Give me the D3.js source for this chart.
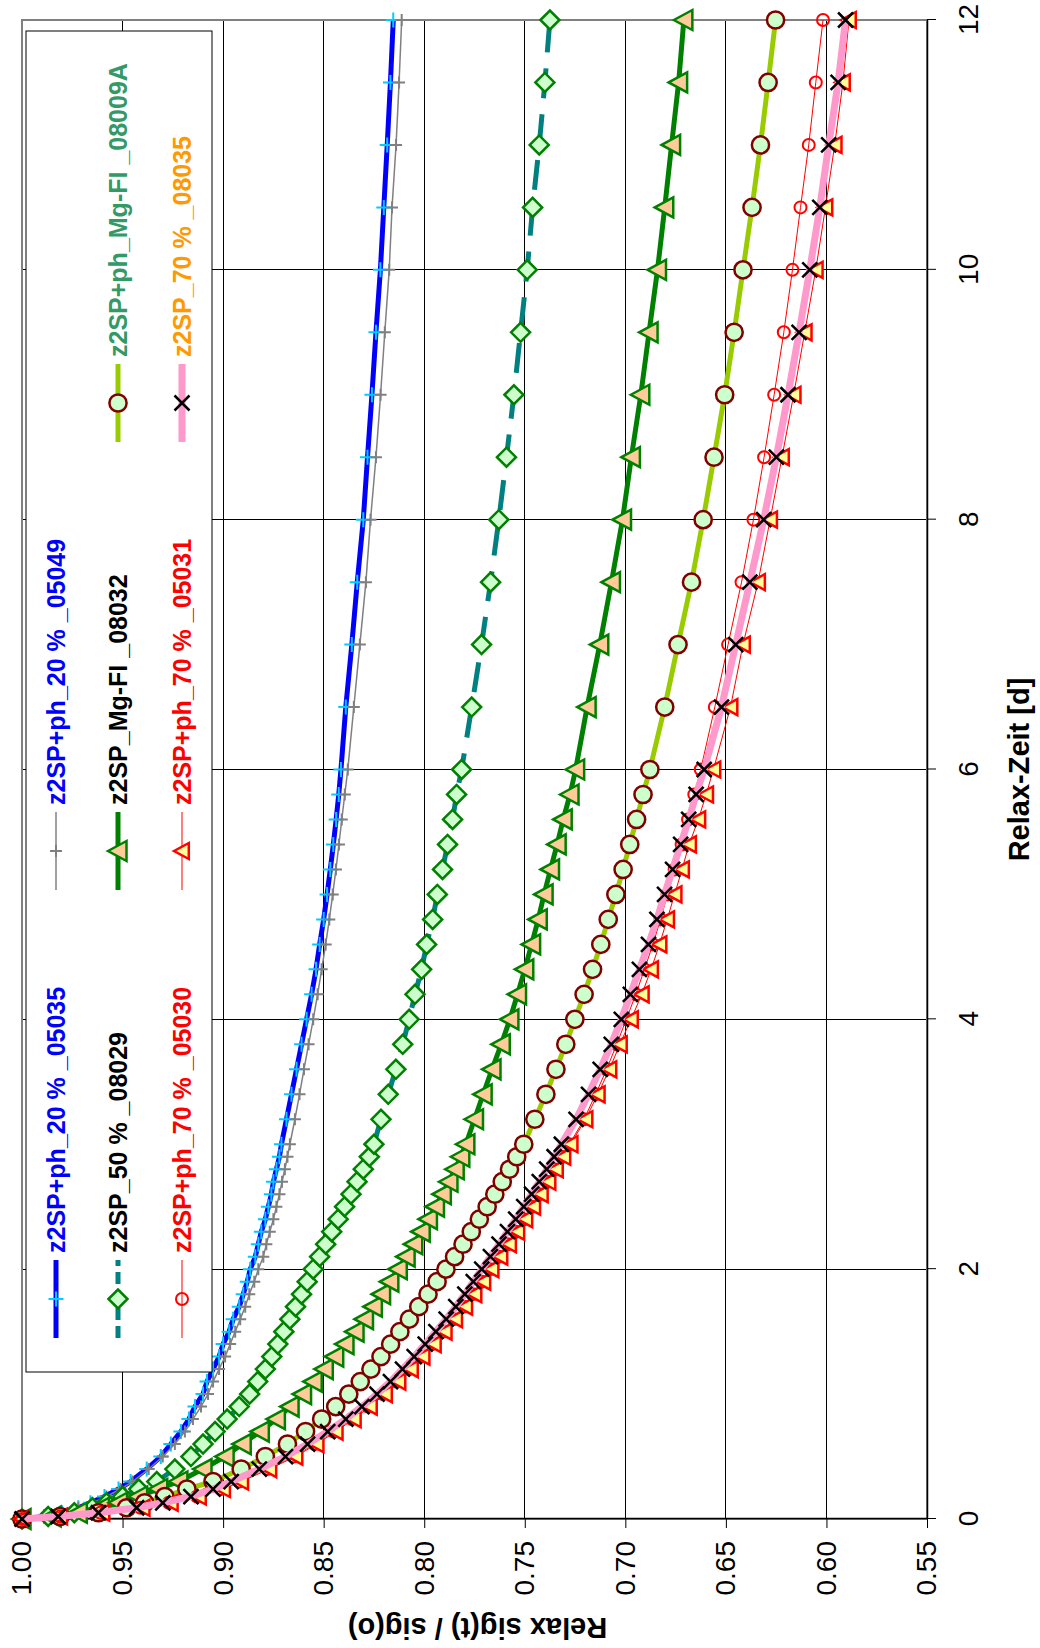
<!DOCTYPE html>
<html lang="de">
<head>
	<meta charset="UTF-8">
	<title>Relaxation</title>
	<script src="https://cdn.jsdelivr.net/npm/d3@7"></script>
	<style>
		html, body{
			margin: 0;
			padding: 0;
			background: #fff;
		}
		svg{
			display: block;
			font-family: "Liberation Sans", Arial, sans-serif;
		}
	</style>
</head>
<body>
	<div class="chart"></div>
	<script>
		// Relax-Zeit [d]
		var days = [0, 0.02, 0.05, 0.09, 0.13, 0.18, 0.24, 0.3,
			0.4, 0.5, 0.6, 0.7, 0.8, 0.9, 1.0, 1.1, 1.2, 1.3, 1.4, 1.5, 1.6, 1.7, 1.8, 1.9, 2.0,
			2.1, 2.2, 2.3, 2.4, 2.5, 2.6, 2.7, 2.8, 2.9, 3.0,
			3.2, 3.4, 3.6, 3.8, 4.0, 4.2, 4.4, 4.6, 4.8, 5.0, 5.2, 5.4, 5.6, 5.8, 6.0,
			6.5, 7.0, 7.5, 8.0, 8.5, 9.0, 9.5, 10.0, 10.5, 11.0, 11.5, 12.0];

		// Relax sig(t) / sig(o)
		var s05035 = [1.000, 0.989, 0.980, 0.972, 0.966, 0.959, 0.952, 0.946,
			0.938, 0.931, 0.926, 0.921, 0.917, 0.914, 0.910, 0.908, 0.905, 0.902, 0.900, 0.897, 0.895, 0.892, 0.890, 0.888, 0.8865,
			0.884, 0.8825, 0.881, 0.879, 0.8775, 0.876, 0.875, 0.8735, 0.872, 0.871,
			0.8685, 0.866, 0.8635, 0.861, 0.8585, 0.856, 0.8538, 0.852, 0.850, 0.8483, 0.8467, 0.8452, 0.8438, 0.8425, 0.8414,
			0.839, 0.836, 0.8333, 0.8303, 0.8282, 0.826, 0.824, 0.8218, 0.8201, 0.8184, 0.8168, 0.8154];
		var s05049 = [1.000, 0.989, 0.980, 0.972, 0.965, 0.958, 0.951, 0.945,
			0.937, 0.930, 0.924, 0.919, 0.915, 0.911, 0.9075, 0.905, 0.902, 0.899, 0.8965, 0.894, 0.8915, 0.889, 0.887, 0.8845, 0.8825,
			0.880, 0.8785, 0.8768, 0.875, 0.8735, 0.872, 0.8707, 0.8693, 0.868, 0.8668,
			0.8643, 0.862, 0.8598, 0.8575, 0.8552, 0.853, 0.851, 0.849, 0.8472, 0.8455, 0.8439, 0.8424, 0.841, 0.8395, 0.838,
			0.835, 0.832, 0.829, 0.8267, 0.824, 0.8217, 0.8196, 0.8174, 0.816, 0.814, 0.8125, 0.8112];
		var s08029 = [1.000, 0.987, 0.974, 0.965, 0.958, 0.950, 0.942, 0.933,
			0.924, 0.916, 0.910, 0.904, 0.898, 0.892, 0.8868, 0.8828, 0.879, 0.8758, 0.8728, 0.8698, 0.8668, 0.864, 0.861, 0.8582, 0.8552,
			0.852, 0.849, 0.846, 0.8428, 0.8396, 0.8364, 0.8334, 0.8303, 0.8273, 0.825,
			0.8215, 0.8179, 0.8141, 0.8107, 0.8075, 0.8046, 0.8013, 0.7988, 0.7958, 0.7935, 0.7909, 0.7884, 0.7859, 0.7839, 0.7814,
			0.7764, 0.7715, 0.767, 0.7629, 0.7591, 0.7554, 0.7521, 0.7488, 0.7461, 0.7428, 0.740, 0.7375];
		var s08032 = [1.000, 0.985, 0.972, 0.961, 0.952, 0.942, 0.932, 0.922,
			0.910, 0.899, 0.8905, 0.8815, 0.8735, 0.8667, 0.8605, 0.8552, 0.8497, 0.8445, 0.8394, 0.8344, 0.8297, 0.8253, 0.8212, 0.8171, 0.8129,
			0.809, 0.8052, 0.8015, 0.7979, 0.7944, 0.791, 0.7877, 0.7846, 0.7818, 0.7793,
			0.775, 0.7707, 0.7663, 0.7617, 0.7574, 0.7536, 0.750, 0.7466, 0.7433, 0.7404, 0.7372, 0.7339, 0.7309, 0.7275, 0.7247,
			0.719, 0.7127, 0.7069, 0.7014, 0.697, 0.6923, 0.6882, 0.684, 0.6804, 0.677, 0.6735, 0.6709];
		var s08009A = [1.000, 0.981, 0.962, 0.948, 0.939, 0.929, 0.918, 0.905,
			0.891, 0.879, 0.868, 0.859, 0.851, 0.844, 0.8375, 0.8318, 0.8265, 0.8215, 0.8167, 0.8121, 0.8074, 0.8027, 0.7981, 0.7936, 0.7892,
			0.7849, 0.7807, 0.7766, 0.7726, 0.7687, 0.7649, 0.7612, 0.7576, 0.754, 0.7505,
			0.745, 0.7395, 0.7345, 0.7296, 0.7251, 0.7205, 0.7163, 0.7122, 0.7085, 0.7047, 0.7011, 0.6978, 0.6944, 0.6912, 0.6878,
			0.6804, 0.6738, 0.6671, 0.6613, 0.6559, 0.6506, 0.6459, 0.6415, 0.637, 0.6328, 0.629, 0.6253];
		var s05030 = [1.000, 0.981, 0.961, 0.941, 0.927, 0.913, 0.901, 0.892,
			0.878, 0.865, 0.8545, 0.845, 0.836, 0.828, 0.8205, 0.8138, 0.8075, 0.8017, 0.796, 0.7906, 0.7854, 0.7804, 0.7758, 0.7714, 0.7672,
			0.7628, 0.7586, 0.7545, 0.7505, 0.7466, 0.7428, 0.739, 0.7353, 0.7316, 0.7278,
			0.7205, 0.7148, 0.7093, 0.7043, 0.6995, 0.6948, 0.6905, 0.6863, 0.6825, 0.679, 0.6755, 0.672, 0.6688, 0.6657, 0.6625,
			0.6555, 0.6489, 0.6422, 0.6363, 0.631, 0.626, 0.6212, 0.6169, 0.6129, 0.6088, 0.6053, 0.6017];
		var s05031 = [1.000, 0.981, 0.960, 0.940, 0.926, 0.912, 0.900, 0.891,
			0.877, 0.864, 0.8535, 0.844, 0.835, 0.827, 0.8195, 0.8128, 0.8066, 0.8008, 0.7952, 0.7898, 0.7846, 0.7796, 0.775, 0.7706, 0.7665,
			0.7621, 0.7578, 0.7537, 0.7497, 0.7458, 0.742, 0.7382, 0.7345, 0.7308, 0.7272,
			0.7198, 0.7137, 0.7079, 0.7027, 0.6972, 0.6918, 0.6872, 0.683, 0.6792, 0.6755, 0.6718, 0.6683, 0.6637, 0.6598, 0.6562,
			0.6477, 0.6415, 0.634, 0.628, 0.6221, 0.6163, 0.6108, 0.6053, 0.6005, 0.5959, 0.5918, 0.5888];
		var s08035 = [1.000, 0.982, 0.962, 0.943, 0.930, 0.916, 0.905, 0.896,
			0.882, 0.869, 0.858, 0.848, 0.839, 0.831, 0.8235, 0.8168, 0.8108, 0.805, 0.7995, 0.7942, 0.7891, 0.7843, 0.7798, 0.7756, 0.7714,
			0.7671, 0.7628, 0.7586, 0.7545, 0.7505, 0.7466, 0.7428, 0.7391, 0.7354, 0.7318,
			0.7245, 0.7183, 0.7125, 0.707, 0.702, 0.6975, 0.693, 0.6885, 0.6843, 0.6805, 0.6765, 0.6725, 0.6685, 0.6648, 0.6608,
			0.6522, 0.6451, 0.6381, 0.6312, 0.6249, 0.6191, 0.6136, 0.6083, 0.6033, 0.5989, 0.5942, 0.5905];

		var seriesNames = ['z2SP+ph_20 % _05035', 'z2SP+ph_20 % _05049', 'z2SP_50 % _08029', 'z2SP_Mg-FI _08032',
			'z2SP+ph_Mg-FI _08009A', 'z2SP+ph_70 % _05030', 'z2SP+ph_70 % _05031', 'z2SP_70 % _08035'];
		var xTicks = [0, 2, 4, 6, 8, 10, 12];
		var yTicks = [1.00, 0.95, 0.90, 0.85, 0.80, 0.75, 0.70, 0.65, 0.60, 0.55];
		var xTitle = 'Relax-Zeit [d]';
		var yTitle = 'Relax  sig(t) / sig(o)';

		// marker shapes
		function mPlus(s){ return 'M' + (-s) + ',0H' + s + 'M0,' + (-s) + 'V' + s; }
		function mCross(s){ return 'M' + (-s) + ',' + (-s) + 'L' + s + ',' + s + 'M' + (-s) + ',' + s + 'L' + s + ',' + (-s); }
		function mDiamond(s){ return 'M0,' + (-s) + 'L' + s + ',0L0,' + s + 'L' + (-s) + ',0Z'; }
		function mTriangle(s){ return 'M0,' + (-s) + 'L' + s + ',' + (s * 0.85) + 'L' + (-s) + ',' + (s * 0.85) + 'Z'; }
		function mCircle(s){ return 'M' + s + ',0A' + s + ',' + s + ' 0 1,1 ' + (-s) + ',0A' + s + ',' + s + ' 0 1,1 ' + s + ',0Z'; }

		var series = [
			{ name: seriesNames[0], values: s05035, color: '#0000ff', width: 5, dash: null, marker: mPlus(7.5), mStroke: '#00ccff', mFill: 'none', mWidth: 2, text: '#0000ff', slot: [0, 0] },
			{ name: seriesNames[1], values: s05049, color: '#808080', width: 1.5, dash: null, marker: mPlus(6), mStroke: '#808080', mFill: 'none', mWidth: 2, text: '#0000ff', slot: [0, 1] },
			{ name: seriesNames[2], values: s08029, color: '#008080', width: 5, dash: '30,16', marker: mDiamond(9.5), mStroke: '#008000', mFill: '#ccffcc', mWidth: 2.5, text: '#000000', slot: [1, 0] },
			{ name: seriesNames[3], values: s08032, color: '#008000', width: 5, dash: null, marker: mTriangle(10), mStroke: '#008000', mFill: '#ffcc99', mWidth: 2.5, text: '#000000', slot: [1, 1] },
			{ name: seriesNames[4], values: s08009A, color: '#99cc00', width: 5, dash: null, marker: mCircle(8.6), mStroke: '#800000', mFill: '#ccffcc', mWidth: 2.5, text: '#339966', slot: [1, 2] },
			{ name: seriesNames[5], values: s05030, color: '#ff0000', width: 1, dash: null, marker: mCircle(6), mStroke: '#ff0000', mFill: 'none', mWidth: 2, text: '#ff0000', slot: [2, 0] },
			{ name: seriesNames[6], values: s05031, color: '#ff0000', width: 1, dash: null, marker: mTriangle(8), mStroke: '#ff0000', mFill: '#ffff99', mWidth: 2.5, text: '#ff0000', slot: [2, 1] },
			{ name: seriesNames[7], values: s08035, color: '#ff99cc', width: 7, dash: null, marker: mCross(7.5), mStroke: '#000000', mFill: 'none', mWidth: 2.5, text: '#ff9900', slot: [2, 2] }
		];

		// chart is laid out landscape and turned by -90 degrees on the page
		var pageW = 1040, pageH = 1648;
		var padding = { left: 129, right: 1628, top: 22, bottom: 927 };

		var xScale = d3.scaleLinear().domain([0, 12]).range([padding.left, padding.right]);
		var yScale = d3.scaleLinear().domain([0.55, 1.0]).range([padding.bottom, padding.top]);

		var svg = d3.select('.chart')
					.append('svg')
					.attr('width', pageW)
					.attr('height', pageH);
		svg.append('rect').attr('width', pageW).attr('height', pageH).attr('fill', '#fff');

		var g = svg.append('g')
					.attr('transform', 'translate(0,' + pageH + ') rotate(-90)');

		// gridlines
		var grid = g.append('g').attr('shape-rendering', 'crispEdges');
		grid.selectAll('.gx')
			.data(xTicks.slice(1, -1))
			.enter()
			.append('line')
			.attr('x1', function(d){ return xScale(d); })
			.attr('x2', function(d){ return xScale(d); })
			.attr('y1', padding.top)
			.attr('y2', padding.bottom)
			.attr('stroke', '#000')
			.attr('stroke-width', 1);
		grid.selectAll('.gy')
			.data(yTicks.slice(1, -1))
			.enter()
			.append('line')
			.attr('x1', padding.left)
			.attr('x2', padding.right)
			.attr('y1', function(d){ return yScale(d); })
			.attr('y2', function(d){ return yScale(d); })
			.attr('stroke', '#000')
			.attr('stroke-width', 1);

		// plot area border
		g.append('rect')
			.attr('x', padding.left)
			.attr('y', padding.top)
			.attr('width', padding.right - padding.left)
			.attr('height', padding.bottom - padding.top)
			.attr('fill', 'none')
			.attr('stroke', '#808080')
			.attr('stroke-width', 2);

		// axes
		var xAxis = d3.axisBottom(xScale)
						.tickValues(xTicks)
						.tickFormat(d3.format('d'))
						.tickSize(9)
						.tickSizeOuter(0)
						.tickPadding(22);
		var yAxis = d3.axisLeft(yScale)
						.tickValues(yTicks)
						.tickFormat(d3.format('.2f'))
						.tickSize(9)
						.tickSizeOuter(0)
						.tickPadding(13);

		var gx = g.append('g')
					.attr('transform', 'translate(0,' + padding.bottom + ')')
					.call(xAxis);
		var gy = g.append('g')
					.attr('transform', 'translate(' + padding.left + ',0)')
					.call(yAxis);
		[gx, gy].forEach(function(a){
			a.selectAll('path').attr('stroke', '#000').attr('stroke-width', 1.5);
			a.selectAll('line').attr('stroke', '#000').attr('stroke-width', 1);
			a.selectAll('text')
				.attr('font-family', '"Liberation Sans", Arial, sans-serif')
				.attr('font-size', 28)
				.attr('fill', '#000');
		});

		// axis titles
		g.append('text')
			.attr('x', (padding.left + padding.right) / 2)
			.attr('y', 1029)
			.attr('text-anchor', 'middle')
			.attr('font-size', 29)
			.attr('font-weight', 'bold')
			.text(xTitle);
		g.append('text')
			.attr('transform', 'translate(30,' + ((padding.top + padding.bottom) / 2 + 3) + ') rotate(-90)')
			.attr('text-anchor', 'middle')
			.attr('font-size', 29)
			.attr('font-weight', 'bold')
			.text(yTitle);

		// series
		var line = d3.line()
					.x(function(d){ return xScale(d[0]); })
					.y(function(d){ return yScale(d[1]); });

		series.forEach(function(s){
			var pts = days.map(function(t, i){ return [t, s.values[i]]; });
			var sg = g.append('g');
			sg.append('path')
				.attr('d', line(pts))
				.attr('fill', 'none')
				.attr('stroke', s.color)
				.attr('stroke-width', s.width)
				.attr('stroke-dasharray', s.dash)
				.attr('stroke-linejoin', 'round');
			sg.selectAll('path.m')
				.data(pts)
				.enter()
				.append('path')
				.attr('class', 'm')
				.attr('d', s.marker)
				.attr('transform', function(d){
					return 'translate(' + xScale(d[0]) + ',' + yScale(d[1]) + ')';
				})
				.attr('fill', s.mFill)
				.attr('stroke', s.mStroke)
				.attr('stroke-width', s.mWidth);
		});

		// legend
		var legend = { left: 276, right: 1617, top: 26, bottom: 212 };
		var rowY = [56, 118, 182];
		var colStep = 448;
		var lg = g.append('g');
		lg.append('rect')
			.attr('x', legend.left)
			.attr('y', legend.top)
			.attr('width', legend.right - legend.left)
			.attr('height', legend.bottom - legend.top)
			.attr('fill', '#fff')
			.attr('stroke', '#000')
			.attr('stroke-width', 1);
		series.forEach(function(s){
			var x0 = legend.left + 34 + s.slot[1] * colStep;
			var y0 = rowY[s.slot[0]];
			var it = lg.append('g').attr('transform', 'translate(' + x0 + ',' + y0 + ')');
			it.append('line')
				.attr('x1', 0).attr('x2', 78)
				.attr('y1', 0).attr('y2', 0)
				.attr('stroke', s.color)
				.attr('stroke-width', s.width)
				.attr('stroke-dasharray', s.dash ? '12,6' : null);
			it.append('path')
				.attr('d', s.marker)
				.attr('transform', 'translate(39,0)')
				.attr('fill', s.mFill)
				.attr('stroke', s.mStroke)
				.attr('stroke-width', s.mWidth);
			it.append('text')
				.attr('x', 85)
				.attr('dy', '0.36em')
				.attr('font-size', 25)
				.attr('font-weight', 'bold')
				.attr('fill', s.text)
				.text(s.name);
		});
	</script>
</body>
</html>
